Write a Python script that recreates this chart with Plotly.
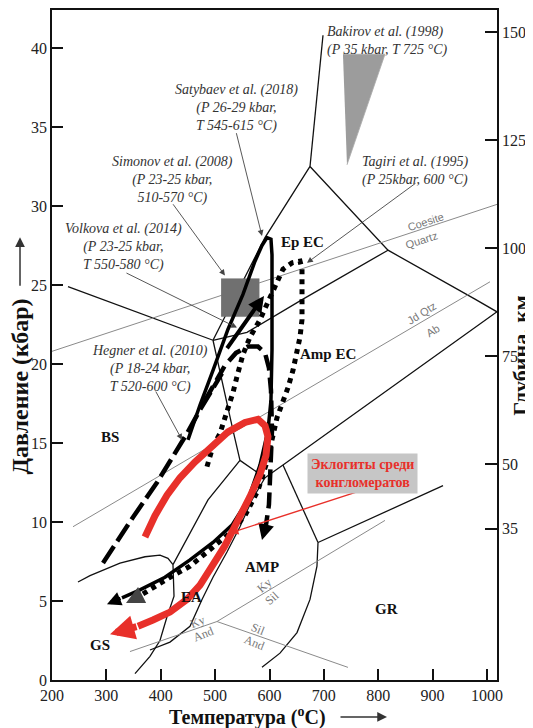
import plotly.graph_objects as go

# ---------------- axes ----------------
temp_ticks = [200, 300, 400, 500, 600, 700, 800, 900, 1000]
pressure_ticks = [0, 5, 10, 15, 20, 25, 30, 35, 40]
depth_ticks = [35, 50, 75, 100, 125, 150]
KM_PER_KBAR = 3.66
T_RANGE = [200, 1018.4]
P_RANGE = [0, 42.4]

# ---------------- facies boundaries (T degC, P kbar) ----------------
bs_top_T = [229.4, 496.1];                      bs_top_P = [24.9, 21.5]
bs_epec_T = [496.1, 591.7, 674.5];              bs_epec_P = [21.5, 28.0, 32.5]
lws_up_T = [674.5, 698.4];                      lws_up_P = [32.5, 40.8]
epec_top_T = [674.5, 817.9, 977.9, 1018.4];     epec_top_P = [32.5, 27.2, 24.1, 23.3]
epec_ampec_T = [817.9, 661.6, 558.6, 496.1];    epec_ampec_P = [27.2, 24.1, 22.0, 21.5]
bs_ea_T = [496.1, 523.7, 532.9, 545.7, 486.9, 422.5]
bs_ea_P = [21.5, 17.1, 15.8, 13.9, 11.4, 7.3]
bs_gs_T = [247.8, 269.9, 325.0, 371.0, 398.6, 413.3, 422.5]
bs_gs_P = [6.2, 6.6, 7.4, 7.8, 7.9, 7.7, 7.3]
ea_gs_T = [422.5, 424.4, 411.5, 398.6, 380.2, 352.6]
ea_gs_P = [7.3, 5.3, 4.0, 2.5, 1.5, 0.4]
ampec_bot_T = [545.7, 591.7, 624.8, 1018.4];    ampec_bot_P = [13.9, 12.8, 13.6, 23.3]
amp_gr_T = [624.8, 689.2];                      amp_gr_P = [13.6, 8.7]
gr_branch_T = [689.2, 919.1];                   gr_branch_P = [8.7, 12.3]
amp_gr_curve_T = [689.2, 687.3, 674.5, 650.6, 619.3, 586.2]
amp_gr_curve_P = [8.7, 7.2, 5.1, 3.0, 1.7, 0.8]
ea_amp_T = [591.7, 567.8, 545.7, 521.8, 496.1, 475.9, 453.8, 417.0, 380.2]
ea_amp_P = [12.8, 11.4, 9.7, 8.1, 6.5, 5.1, 3.4, 2.4, 1.9]

# ---------------- mineral reactions (grey) ----------------
coe_qtz_T = [200, 1018.4];      coe_qtz_P = [20.8, 30.1]
jd_ab_T = [238.6, 1005.5];      jd_ab_P = [9.7, 25.2]
ky_and_T = [343.4, 503.4];      ky_and_P = [1.8, 3.7]
ky_sil_T = [503.4, 812.4];      ky_sil_P = [3.7, 10.1]
sil_and_T = [503.4, 744.3];     sil_and_P = [3.7, 0.8]

# ---------------- published PT estimates ----------------
bakirov_T = [735.1, 812.4, 742.5];  bakirov_P = [39.6, 39.6, 32.6]
simonov_T = [511, 581, 581, 511];   simonov_P = [23.0, 23.0, 25.4, 25.4]

# ---------------- PT paths ----------------
solid_T = [450.1, 472.2, 496.1, 523.7, 551.2, 573.3, 586.2, 595.4, 602.7, 604.6, 604.6, 604.6,
           602.7, 597.2, 582.5, 560.4, 531.0, 496.1, 453.8, 407.8, 361.8, 328.7]
solid_P = [15.2, 17.4, 19.6, 22.2, 24.4, 26.5, 27.5, 28.0, 27.9, 26.9, 24.1, 20.9,
           17.7, 15.8, 13.6, 11.4, 9.8, 8.7, 7.6, 6.5, 5.7, 5.2]
solid_tip = (301.1, 4.8)

dotted_T = [485.0, 496.1, 508.9, 523.7, 532.9, 540.2, 551.2, 564.1, 582.5, 600.9, 613.8, 624.8,
            641.4, 656.1, 659.8, 659.8, 659.8, 656.1, 650.6, 643.2, 634.0, 623.0, 613.8, 604.6,
            593.5, 578.8, 554.9, 523.7, 486.9, 453.8, 417.0, 380.2, 358.2]
dotted_P = [13.5, 14.8, 15.6, 17.1, 18.2, 19.2, 20.6, 21.7, 22.8, 24.2, 25.1, 26.0,
            26.4, 26.5, 26.0, 24.1, 22.8, 21.7, 20.7, 19.6, 18.5, 17.5, 16.6, 15.2,
            13.6, 12.0, 10.4, 9.2, 8.1, 7.2, 6.5, 5.7, 5.25]
dotted_tip = (336.1, 4.87)

dash1_T = [293.8, 312.2, 349.0, 393.1, 422.5, 448.3, 472.2, 496.1, 512.6]
dash1_P = [7.4, 8.4, 10.3, 12.5, 14.1, 15.6, 17.1, 18.4, 19.4]
dash1_arrow = ((520.0, 20.9), (589.9, 24.3))

dash2_T = [481.4, 499.8, 518.1, 538.4, 560.4, 578.8, 591.7, 599.0, 602.7, 604.6, 602.7, 599.0, 593.5]
dash2_P = [17.7, 18.8, 19.9, 20.7, 21.1, 21.1, 20.7, 19.75, 18.35, 15.8, 13.3, 11.1, 9.8]
dash2_tip = (586.2, 8.86)

red_T = [371.0, 389.4, 411.5, 435.4, 463.0, 496.1, 523.7, 554.9, 578.8, 591.7, 597.2, 593.5,
         582.5, 564.1, 542.0, 518.1, 496.1, 472.2, 448.3, 417.0, 385.7, 358.2]
red_P = [9.05, 10.4, 11.7, 12.8, 13.8, 14.9, 15.7, 16.3, 16.5, 16.1, 15.4, 14.2,
         13.0, 11.6, 10.1, 8.5, 7.3, 6.0, 5.1, 4.3, 3.8, 3.4]
red_tip = (306.7, 2.9)

SERIF = "Liberation Serif"
SANS = "Liberation Sans"

fig = go.Figure()


def line(T, P, color="#111", width=1.3, dash=None):
    fig.add_trace(go.Scatter(x=T, y=P, mode="lines", hoverinfo="skip", showlegend=False,
                             line=dict(color=color, width=width, dash=dash)))


for T, P in [(bs_top_T, bs_top_P), (bs_epec_T, bs_epec_P), (lws_up_T, lws_up_P),
             (epec_top_T, epec_top_P), (epec_ampec_T, epec_ampec_P), (bs_ea_T, bs_ea_P),
             (bs_gs_T, bs_gs_P), (ea_gs_T, ea_gs_P), (ampec_bot_T, ampec_bot_P),
             (amp_gr_T, amp_gr_P), (gr_branch_T, gr_branch_P),
             (amp_gr_curve_T, amp_gr_curve_P), (ea_amp_T, ea_amp_P)]:
    line(T, P, "#111", 1.3)

for T, P in [(coe_qtz_T, coe_qtz_P), (jd_ab_T, jd_ab_P), (ky_and_T, ky_and_P),
             (ky_sil_T, ky_sil_P), (sil_and_T, sil_and_P)]:
    line(T, P, "#8a8a8a", 1.0)

# filled estimates
fig.add_trace(go.Scatter(x=bakirov_T, y=bakirov_P, fill="toself", mode="lines",
                         fillcolor="#9c9c9c", line=dict(color="#aaaaaa", width=0.8),
                         hoverinfo="skip", showlegend=False))
fig.add_trace(go.Scatter(x=simonov_T, y=simonov_P, fill="toself", mode="lines",
                         fillcolor="#707070", line=dict(color="#707070", width=0.5),
                         hoverinfo="skip", showlegend=False))

# paths
line(dash1_T, dash1_P, "#000", 4.5, "20px,6px")
line(dash2_T, dash2_P, "#000", 4.5, "16px,7px")
line(dotted_T, dotted_P, "#000", 5, "dot")
line(solid_T, solid_P, "#000", 3.5)
line(red_T, red_P, "#e8302a", 7)

# invisible trace for depth axis
fig.add_trace(go.Scatter(x=[T_RANGE[0]], y=[0], yaxis="y2", mode="markers",
                         marker=dict(opacity=0), hoverinfo="skip", showlegend=False))

ann = []


def arrow(tail, tip, color, width, head=2, size=1.0):
    ann.append(dict(x=tip[0], y=tip[1], ax=tail[0], ay=tail[1], xref="x", yref="y",
                    axref="x", ayref="y", text="", showarrow=True, arrowhead=head,
                    arrowsize=size, arrowwidth=width, arrowcolor=color, standoff=0))


arrow((solid_T[-1], solid_P[-1]), solid_tip, "#000", 3.5, 2, 0.8)
arrow((dotted_T[-1], dotted_P[-1]), dotted_tip, "#444", 3, 2, 1.2)
arrow(dash1_arrow[0], dash1_arrow[1], "#000", 4, 2, 0.8)
arrow((dash2_T[-1], dash2_P[-1]), dash2_tip, "#000", 4, 2, 0.8)
arrow((red_T[-1], red_P[-1]), red_tip, "#e8302a", 7, 2, 0.7)

# reference pointers
GREY = "#444"
arrow((538.4, 34.7), (586.2, 28.1), GREY, 0.9, 2, 1.3)   # Satybaev
arrow((420.7, 30.2), (518.1, 25.6), GREY, 0.9, 2, 1.3)   # Simonov
arrow((334.2, 25.8), (540.2, 22.3), GREY, 0.9, 2, 1.3)   # Volkova
arrow((389.4, 18.35), (439.1, 15.2), GREY, 0.9, 2, 1.3)  # Hegner
arrow((871.2, 31.5), (669.0, 26.4), GREY, 0.9, 2, 1.3)   # Tagiri
arrow((760.9, 11.9), (527.3, 9.3), "#e8302a", 1.4, 2, 1.2)  # eclogites


def txt(x, y, s, size=14, color="#111", angle=0, family=SERIF, xanchor="center", align="center",
        xref="x", yref="y", **kw):
    d = dict(x=x, y=y, text=s, showarrow=False, xref=xref, yref=yref, textangle=angle,
             font=dict(family=family, size=size, color=color), xanchor=xanchor, align=align,
             yanchor="middle")
    d.update(kw)
    ann.append(d)


# facies labels
for lab, T, P in [("BS", 306.7, 15.4), ("Ep EC", 661.6, 27.7), ("Amp EC", 707.4, 20.6),
                  ("EA", 457.4, 5.25), ("AMP", 586.2, 7.15), ("GR", 815.8, 4.5), ("GS", 288.3, 2.2)]:
    txt(T, P, "<b>" + lab + "</b>", 15)

# reference notes
NOTE = "#333"
txt(702, 40.45, "<i>Bakirov et al. (1998)<br>(P 35 kbar, T 725 °C)</i>", 14, NOTE,
    xanchor="left", align="left")
txt(538.4, 36.2, "<i>Satybaev et al. (2018)<br>(P 26-29 kbar,<br>T 545-615 °C)</i>", 14, NOTE)
txt(420.7, 31.65, "<i>Simonov et al. (2008)<br>(P 23-25 kbar,<br>510-570 °C)</i>", 14, NOTE)
txt(330.6, 27.4, "<i>Volkova et al. (2014)<br>(P 23-25 kbar,<br>T 550-580 °C)</i>", 14, NOTE)
txt(380.2, 19.7, "<i>Hegner et al. (2010)<br>(P 18-24 kbar,<br>T 520-600 °C)</i>", 14, NOTE)
txt(766, 32.2, "<i>Tagiri et al. (1995)<br>(P 25kbar, 600 °C)</i>", 14, NOTE,
    xanchor="left", align="left")

# reaction labels
txt(886, 29.0, "Coesite", 11, "#777", -18, SANS)
txt(880, 27.85, "Quartz", 11, "#777", -18, SANS)
txt(880.4, 23.2, "Jd Qtz", 11, "#777", -32, SANS)
txt(899, 22.1, "Ab", 11, "#777", -32, SANS)
txt(466.7, 3.7, "Ky", 12, "#777", -22)
txt(479.5, 2.9, "And", 12, "#777", -22)
txt(591.7, 6.0, "Ky", 12, "#777", -42)
txt(604.6, 5.2, "Sil", 12, "#777", -42)
txt(578.8, 3.2, "Sil", 12, "#777", 22)
txt(573.3, 2.35, "And", 12, "#777", 22)

# eclogite box
txt(771.9, 13.05, "<b>Эклогиты среди<br>конгломератов</b>", 14, "#e8302a",
    bgcolor="#c6c6c6", borderpad=3)

# axis titles
txt(-0.0719, 0.438, "<b>Давление (кбар)</b>", 24, "#111", -90, xref="paper", yref="paper")
ann.append(dict(x=-0.0719, y=0.661, xref="paper", yref="paper", ax=0, ay=50, text="",
                showarrow=True, arrowhead=2, arrowsize=1.3, arrowwidth=1.5, arrowcolor="#333"))
txt(0.4404, -0.0552, "<b>Температура (<sup>o</sup>C)</b>", 20, "#111", xref="paper", yref="paper")
ann.append(dict(x=0.7528, y=-0.0552, xref="paper", yref="paper", ax=-48, ay=0, text="",
                showarrow=True, arrowhead=2, arrowsize=1.3, arrowwidth=1.5, arrowcolor="#333"))
txt(1.051, 0.485, "<b>Глубина, км</b>", 22, "#111", -90, xref="paper", yref="paper")

TICKFONT = dict(family=SERIF, size=16, color="#222")
# page body has an 8px margin, so the figure is 8px smaller than the window
fig.update_layout(
    width=525, height=720,
    margin=dict(l=44, r=36, t=2, b=48),
    paper_bgcolor="white", plot_bgcolor="white",
    showlegend=False,
    annotations=ann,
    xaxis=dict(range=T_RANGE, tickvals=temp_ticks, ticks="inside", ticklen=11, tickwidth=1.5,
               tickcolor="#111", showline=True, linecolor="#111", linewidth=1.6, mirror=True,
               showgrid=False, zeroline=False, tickfont=TICKFONT, automargin=False),
    yaxis=dict(range=P_RANGE, tickvals=pressure_ticks, ticks="inside", ticklen=11, tickwidth=1.5,
               tickcolor="#111", showline=True, linecolor="#111", linewidth=1.6,
               showgrid=False, zeroline=False, tickfont=TICKFONT, automargin=False),
    yaxis2=dict(range=[P_RANGE[0] * KM_PER_KBAR, P_RANGE[1] * KM_PER_KBAR], tickvals=depth_ticks,
                overlaying="y", side="right", ticks="inside", ticklen=12, tickwidth=1.5,
                tickcolor="#111", showline=True, linecolor="#111", linewidth=1.6,
                showgrid=False, zeroline=False, tickfont=TICKFONT, automargin=False),
)

fig.write_html("out.html")
